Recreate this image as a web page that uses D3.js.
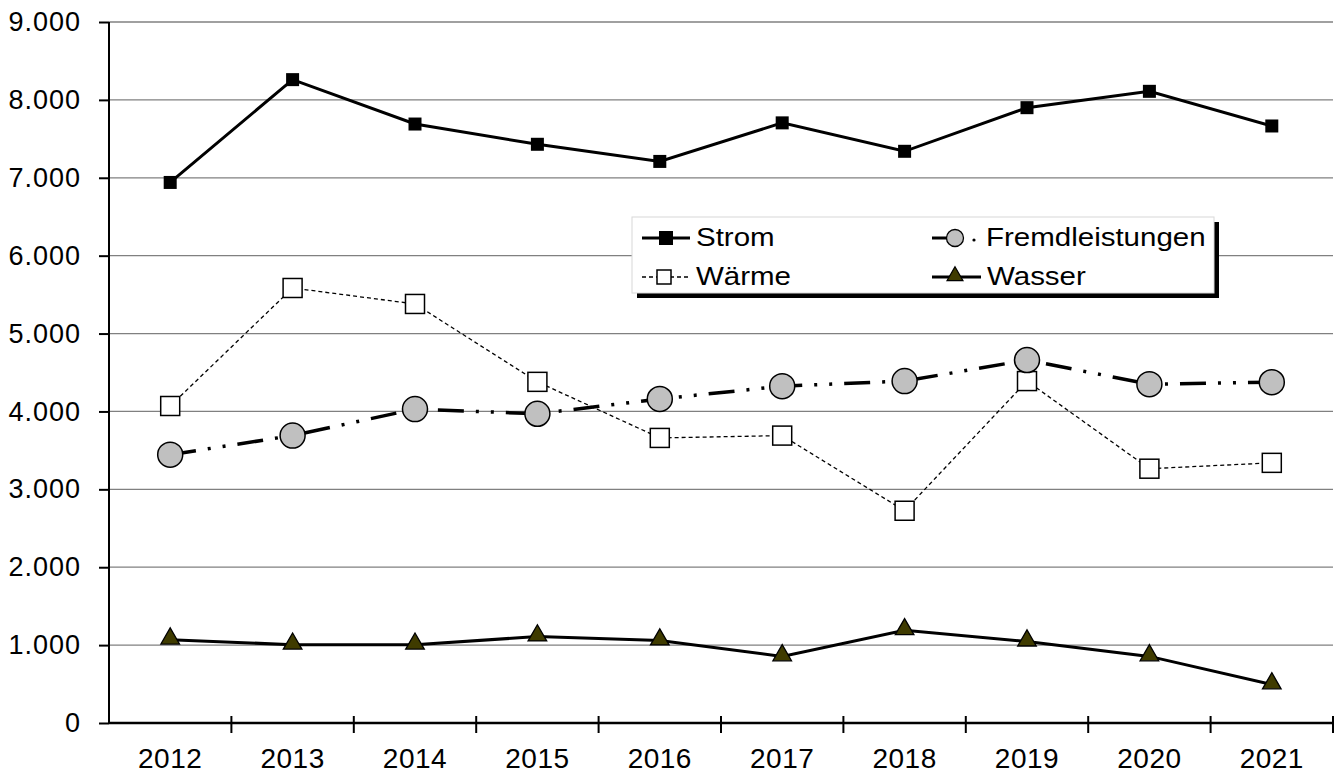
<!DOCTYPE html>
<html>
<head>
<meta charset="utf-8">
<script src="https://cdn.jsdelivr.net/npm/d3@7"></script>
<style>
body { margin: 0; background: #fff; }
text { font-family: "Liberation Sans", Arial, sans-serif; }
</style>
</head>
<body>
<script>
// data
var years = ["2012", "2013", "2014", "2015", "2016", "2017", "2018", "2019", "2020", "2021"];
var strom = [6940, 8260, 7690, 7430, 7210, 7705, 7340, 7900, 8110, 7665];
var waerme = [4070, 5585, 5380, 4380, 3660, 3690, 2725, 4390, 3265, 3340];
var fremd = [3445, 3690, 4030, 3970, 4160, 4325, 4390, 4660, 4350, 4375];
var wasser = [1070, 1005, 1005, 1110, 1058, 855, 1190, 1045, 855, 495];
var yTicks = [0, 1000, 2000, 3000, 4000, 5000, 6000, 7000, 8000, 9000];

var W = 1336, H = 778;
var margin = {top: 22, right: 3, bottom: 55, left: 109},
    width = W - margin.left - margin.right,
    height = H - margin.top - margin.bottom;

var svg = d3.select("body").append("svg")
    .attr("width", W).attr("height", H)
  .append("g")
    .attr("transform", "translate(" + margin.left + "," + margin.top + ")");

var x = d3.scaleBand().domain(years).range([0, width]);
var y = d3.scaleLinear().domain([0, 9000]).range([height, 0]);
var fmt = function(d) { return d3.format(",")(d).replace(/,/g, "."); };

// grid lines
svg.append("g")
  .selectAll("line").data(yTicks.slice(1)).enter().append("line")
    .attr("x1", 0).attr("x2", width)
    .attr("y1", function(d) { return y(d); }).attr("y2", function(d) { return y(d); })
    .style("stroke", "#808080").style("stroke-width", 1.3);

// y axis
var yAxis = svg.append("g")
  .call(d3.axisLeft(y).tickValues(yTicks).tickFormat(fmt).tickSize(10).tickPadding(18));
yAxis.select(".domain").attr("d", "M0," + height + "V0").style("stroke-width", 2);
yAxis.selectAll(".tick line").style("stroke-width", 2);
yAxis.selectAll("text").style("font-size", "27px").style("letter-spacing", "1px").attr("fill", "#000");

// x axis, ticks sit between the categories
var xg = svg.append("g").attr("transform", "translate(0," + height + ")");
xg.append("line").attr("x1", 0).attr("x2", width).style("stroke", "#000").style("stroke-width", 2.5);
xg.selectAll(".xt").data(years).enter().append("line")
    .attr("x1", function(d) { return x(d) + x.bandwidth(); })
    .attr("x2", function(d) { return x(d) + x.bandwidth(); })
    .attr("y1", -7).attr("y2", 10)
    .style("stroke", "#000").style("stroke-width", 2);
xg.selectAll(".xl").data(years).enter().append("text")
    .attr("x", function(d) { return x(d) + x.bandwidth() / 2; })
    .attr("y", 45)
    .attr("text-anchor", "middle")
    .style("font-size", "28px").style("letter-spacing", "0.5px")
    .text(function(d) { return d; });

var cx = function(d, i) { return x(years[i]) + x.bandwidth() / 2; };
var line = d3.line().x(cx).y(function(d) { return y(d); });

// lines
svg.append("path").attr("d", line(waerme)).attr("fill", "none")
    .style("stroke", "#000").style("stroke-width", 1.3).style("stroke-dasharray", "4,3");
svg.append("path").attr("d", line(fremd)).attr("fill", "none")
    .style("stroke", "#000").style("stroke-width", 3.5).style("stroke-dasharray", "26,12,3,12,3,12");
svg.append("path").attr("d", line(strom)).attr("fill", "none")
    .style("stroke", "#000").style("stroke-width", 3);
svg.append("path").attr("d", line(wasser)).attr("fill", "none")
    .style("stroke", "#000").style("stroke-width", 3);

// markers
svg.selectAll(".m-w").data(waerme).enter().append("rect")
    .attr("x", function(d, i) { return cx(d, i) - 9.5; }).attr("y", function(d) { return y(d) - 9.5; })
    .attr("width", 19).attr("height", 19)
    .style("fill", "#fff").style("stroke", "#000").style("stroke-width", 1.5);
svg.selectAll(".m-f").data(fremd).enter().append("circle")
    .attr("cx", cx).attr("cy", function(d) { return y(d); }).attr("r", 12.5)
    .style("fill", "#c0c0c0").style("stroke", "#000").style("stroke-width", 1.5);
svg.selectAll(".m-s").data(strom).enter().append("rect")
    .attr("x", function(d, i) { return cx(d, i) - 6.5; }).attr("y", function(d) { return y(d) - 6.5; })
    .attr("width", 13).attr("height", 13)
    .style("fill", "#000");
var tri = d3.symbol().type(d3.symbolTriangle).size(150);
svg.selectAll(".m-a").data(wasser).enter().append("path")
    .attr("d", tri)
    .attr("transform", function(d, i) { return "translate(" + cx(d, i) + "," + (y(d) - 1) + ")"; })
    .style("fill", "#3f3b00").style("stroke", "#000").style("stroke-width", 1.3);

// legend (absolute page coordinates)
var lg = d3.select("svg").append("g");
lg.append("rect").attr("x", 637).attr("y", 222).attr("width", 582).attr("height", 76).style("fill", "#000");
lg.append("rect").attr("x", 632).attr("y", 217).attr("width", 582).attr("height", 76)
    .style("fill", "#fff").style("stroke", "#d8d8d8").style("stroke-width", 1);

var items = [
  {name: "Strom", lx: 642, ly: 238, tx: 696},
  {name: "Fremdleistungen", lx: 932, ly: 238, tx: 986},
  {name: "Wärme", lx: 642, ly: 277, tx: 696},
  {name: "Wasser", lx: 932, ly: 277, tx: 987}
];
items.forEach(function(it) {
  var g = lg.append("g").attr("transform", "translate(" + it.lx + "," + it.ly + ")");
  if (it.name === "Strom") {
    g.append("line").attr("x1", 0).attr("x2", 48).style("stroke", "#000").style("stroke-width", 3);
    g.append("rect").attr("x", 17).attr("y", -7).attr("width", 14).attr("height", 14).style("fill", "#000");
  } else if (it.name === "Wärme") {
    g.append("line").attr("x1", 0).attr("x2", 48).style("stroke", "#000").style("stroke-width", 1.3).style("stroke-dasharray", "4,3");
    g.append("rect").attr("x", 15).attr("y", -7).attr("width", 14).attr("height", 14)
      .style("fill", "#fff").style("stroke", "#000").style("stroke-width", 1.5);
  } else if (it.name === "Fremdleistungen") {
    g.append("line").attr("x1", 0).attr("x2", 16).style("stroke", "#000").style("stroke-width", 3);
    g.append("circle").attr("cx", 23).attr("cy", 0).attr("r", 8.5)
      .style("fill", "#c0c0c0").style("stroke", "#000").style("stroke-width", 1.3);
    g.append("circle").attr("cx", 42).attr("cy", 2).attr("r", 1.6).style("fill", "#000");
  } else {
    g.append("line").attr("x1", 0).attr("x2", 49).style("stroke", "#000").style("stroke-width", 3);
    g.append("path").attr("d", d3.symbol().type(d3.symbolTriangle).size(110))
      .attr("transform", "translate(23,-1)")
      .style("fill", "#3f3b00").style("stroke", "#000").style("stroke-width", 1.2);
  }
  lg.append("g").attr("transform", "translate(" + it.tx + "," + (it.ly + 8) + ") scale(1.18,1)")
    .append("text").attr("x", 0).attr("y", 0)
    .style("font-size", "25px").text(it.name);
});
</script>
</body>
</html>
